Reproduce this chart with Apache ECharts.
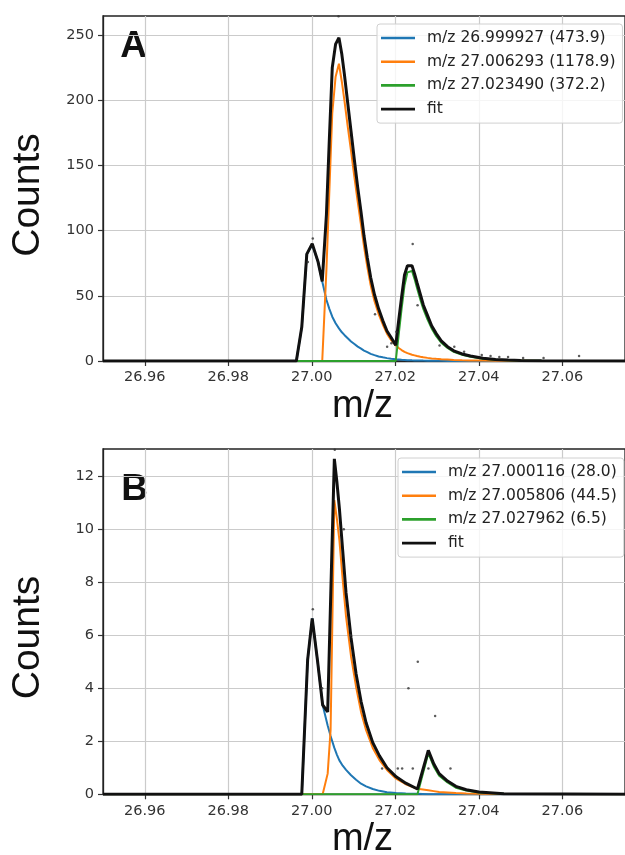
<!DOCTYPE html>
<html>
<head>
<meta charset="utf-8">
<script src="https://cdn.jsdelivr.net/npm/echarts@6/dist/echarts.min.js"></script>
<style>
  html, body { margin: 0; padding: 0; background: #fff; }
  #main { width: 625px; height: 855px; }
</style>
</head>
<body>
<div id="main"></div>
<script>
// shared x range and ticks
var X_MIN = 26.95, X_MAX = 27.075;
var xTicks = [26.96, 26.98, 27.00, 27.02, 27.04, 27.06];

// panel A
var namesA = ['m/z 26.999927 (473.9)', 'm/z 27.006293 (1178.9)', 'm/z 27.023490 (372.2)', 'fit'];
var yTicksA = [0, 50, 100, 150, 200, 250];
var xA = [26.950, 26.9963, 26.9976, 26.9988, 27.0001, 27.0015, 27.0025, 27.0035, 27.0042, 27.0049,
          27.0057, 27.0065, 27.0072, 27.0078, 27.0086, 27.0094, 27.0102, 27.0110, 27.0118, 27.0125,
          27.0133, 27.0141, 27.0150, 27.0160, 27.0170, 27.0180, 27.0190, 27.0201, 27.0208, 27.0215,
          27.0222, 27.0229, 27.0240, 27.0246, 27.0252, 27.0260, 27.0267, 27.0277, 27.0287, 27.0298,
          27.0310, 27.0325, 27.0340, 27.0360, 27.0380, 27.0410, 27.0440, 27.0470, 27.0500, 27.0550,
          27.0750];
var blueA   = [0, 0, 26, 82, 89, 76, 61, 47, 40, 34,
               29, 25, 22, 20, 17.5, 15, 13, 11, 9.5, 8,
               6.8, 5.5, 4.5, 3.5, 2.8, 2.2, 1.7, 1.3, 1.1, 0.9,
               0.8, 0.6, 0.5, 0.45, 0.4, 0.35, 0.3, 0.25, 0.2, 0.15,
               0.1, 0, 0, 0, 0, 0, 0, 0, 0, 0,
               0];
var orangeA = [0, 0, 0, 0, 0, 0, 0, 70, 130, 190,
               218, 228, 214, 200, 180, 161, 141, 122, 104, 88,
               72, 58, 46, 36, 28, 21, 16, 12, 10, 8.4,
               7, 6, 4.8, 4.3, 3.8, 3.3, 2.9, 2.4, 2, 1.7,
               1.4, 1.1, 0.8, 0.6, 0.45, 0.3, 0.2, 0.15, 0.1, 0.05,
               0];
var greenA  = [0, 0, 0, 0, 0, 0, 0, 0, 0, 0,
               0, 0, 0, 0, 0, 0, 0, 0, 0, 0,
               0, 0, 0, 0, 0, 0, 0, 0, 20, 40,
               58, 68, 69, 63, 56, 47, 40, 32, 25, 19,
               14, 10, 7, 4.8, 3.3, 1.8, 1, 0.6, 0.3, 0.1,
               0];
var fitA    = [0, 0, 26, 82, 90, 76, 61, 112, 170, 225,
               243, 248, 235, 220, 198, 176, 154, 133, 114, 96,
               79, 64, 51, 40, 31, 23, 18, 12, 31, 49,
               66, 73, 73, 67, 60, 51, 43, 35, 27, 21,
               15.5, 11, 7.8, 5.4, 3.8, 2.1, 1.2, 0.7, 0.4, 0.1,
               0];
var dotsXA = [27.00024, 26.99906, 27.02416, 27.02533, 27.01514, 27.01804, 27.01906, 27.02024, 27.03059,
              27.03412, 27.03647, 27.0407, 27.0428, 27.0449, 27.0470, 27.0506, 27.0555, 27.0640, 27.0064];
var dotsYA = [94, 76, 89.7, 42.7, 35.8, 11, 13.6, 22.5, 11.8,
              11, 7.1, 4.6, 3.8, 3, 3, 2.3, 2.3, 3.8, 264.5];

// panel B
var namesB = ['m/z 27.000116 (28.0)', 'm/z 27.005806 (44.5)', 'm/z 27.027962 (6.5)', 'fit'];
var yTicksB = [0, 2, 4, 6, 8, 10, 12];
var xB = [26.950, 26.9976, 26.9990, 27.0001, 27.0014, 27.0026, 27.0038, 27.0045, 27.0054, 27.0060,
          27.0066, 27.0074, 27.0082, 27.0094, 27.0106, 27.0118, 27.0130, 27.0146, 27.0162, 27.0180,
          27.0202, 27.0225, 27.0253, 27.0279, 27.0292, 27.0305, 27.0325, 27.0345, 27.0370, 27.0400,
          27.0460, 27.0750];
var blueB   = [0, 0, 5.07, 6.64, 5.0, 3.37, 2.6, 2.2, 1.75, 1.5,
               1.28, 1.08, 0.92, 0.72, 0.55, 0.4, 0.3, 0.2, 0.13, 0.08,
               0.05, 0.03, 0.02, 0, 0, 0, 0, 0, 0, 0,
               0, 0];
var orangeB = [0, 0, 0, 0, 0, 0, 0.78, 2.42, 11.1, 10.4,
               9.6, 8.1, 6.7, 5.2, 4.06, 3.1, 2.42, 1.75, 1.29, 0.92,
               0.59, 0.38, 0.21, 0.15, 0.12, 0.09, 0.07, 0.05, 0.03, 0.02,
               0.01, 0];
var greenB  = [0, 0, 0, 0, 0, 0, 0, 0, 0, 0,
               0, 0, 0, 0, 0, 0, 0, 0, 0, 0,
               0, 0, 0, 1.55, 1.05, 0.7, 0.45, 0.25, 0.14, 0.07,
               0.02, 0];
var fitB    = [0, 0, 5.07, 6.64, 5.0, 3.37, 3.11, 7.3, 12.66, 11.8,
               10.8, 9.2, 7.6, 5.9, 4.55, 3.5, 2.7, 1.95, 1.45, 1.0,
               0.66, 0.42, 0.2, 1.66, 1.15, 0.78, 0.5, 0.3, 0.17, 0.09,
               0.02, 0];
var dotsXB = [27.00024, 27.00766, 27.00926, 27.00247, 27.02538, 27.02314, 27.02953, 27.01684,
              27.02059, 27.02163, 27.02418, 27.02793, 27.0332, 27.0055];
var dotsYB = [6.98, 10.0, 6.0, 4.0, 5.0, 4.0, 2.95, 0.97, 0.97, 0.97, 0.97, 0.97, 0.97, 13.0];

var colors = ['#1f77b4', '#ff7f0e', '#2ca02c', '#111111'];

function pairs(xs, ys) {
    return xs.map(function (x, i) { return [x, ys[i]]; });
}

var tickFont = { fontFamily: 'DejaVu Sans', fontSize: 14.5, color: '#333' };

function makeX(idx) {
    return {
        type: 'value', gridIndex: idx, min: X_MIN, max: X_MAX,
        axisLine: { show: true, onZero: false, lineStyle: { color: '#222', width: 1.3 } },
        axisTick: { show: true, length: 5, customValues: xTicks, lineStyle: { color: '#333', width: 1.2 } },
        axisLabel: Object.assign({ customValues: xTicks, margin: 9,
            formatter: function (v) { return v.toFixed(2); } }, tickFont),
        splitLine: { show: true, lineStyle: { color: '#cbcbcb', width: 1.2 } }
    };
}

function makeY(idx, max, ticks, step) {
    return {
        type: 'value', gridIndex: idx, min: 0, max: max, interval: step,
        axisLine: { show: true, onZero: false, lineStyle: { color: '#222', width: 1.3 } },
        axisTick: { show: true, length: 5, customValues: ticks, lineStyle: { color: '#333', width: 1.2 } },
        axisLabel: Object.assign({ customValues: ticks, margin: 9 }, tickFont),
        splitLine: { show: true, lineStyle: { color: '#cbcbcb', width: 1.2 } }
    };
}

function lineSeries(idx, name, xs, ys, color, width, z) {
    return {
        type: 'line', name: name, xAxisIndex: idx, yAxisIndex: idx,
        data: pairs(xs, ys), symbol: 'none', showSymbol: false,
        lineStyle: { color: color, width: width }, itemStyle: { color: color },
        z: z, silent: true
    };
}

function dotSeries(idx, xs, ys) {
    return {
        type: 'scatter', name: 'data', xAxisIndex: idx, yAxisIndex: idx,
        data: pairs(xs, ys), symbolSize: 2.5, itemStyle: { color: '#333' }, z: 5, silent: true
    };
}

function makeLegend(left, top, names) {
    return {
        orient: 'vertical', left: left, top: top, data: names, selectedMode: false,
        icon: 'rect', padding: [5.5, 7, 5.5, 4], itemWidth: 34, itemHeight: 2.6, itemGap: 6.7,
        backgroundColor: 'rgba(255,255,255,0.8)', borderColor: '#d0d0d0', borderWidth: 1, borderRadius: 3,
        textStyle: { fontFamily: 'DejaVu Sans', fontSize: 15.5, color: '#222', lineHeight: 17, padding: [0, 0, 0, 7] }
    };
}

function bigText(text, x, y, font, rot) {
    return {
        type: 'text', x: x, y: y, rotation: rot || 0, silent: true,
        style: { text: text, font: font, fill: '#111', textAlign: 'center', textVerticalAlign: 'middle' }
    };
}

var chart = echarts.init(document.getElementById('main'), null, { renderer: 'canvas' });

var option = {
    animation: false,
    backgroundColor: '#fff',
    grid: [
        { left: 103, top: 16, width: 531, height: 345, show: true, borderColor: '#222', borderWidth: 1.3 },
        { left: 103, top: 449, width: 531, height: 345.3, show: true, borderColor: '#222', borderWidth: 1.3 }
    ],
    xAxis: [makeX(0), makeX(1)],
    yAxis: [makeY(0, 264.6, yTicksA, 50), makeY(1, 13.03, yTicksB, 2)],
    legend: [makeLegend(377, 24, namesA), makeLegend(398, 458, namesB)],
    series: [
        lineSeries(0, namesA[0], xA, blueA, colors[0], 2, 2),
        lineSeries(0, namesA[1], xA, orangeA, colors[1], 2, 2),
        lineSeries(0, namesA[2], xA, greenA, colors[2], 2, 2),
        lineSeries(0, namesA[3], xA, fitA, colors[3], 3, 3),
        dotSeries(0, dotsXA, dotsYA),
        lineSeries(1, namesB[0], xB, blueB, colors[0], 2, 2),
        lineSeries(1, namesB[1], xB, orangeB, colors[1], 2, 2),
        lineSeries(1, namesB[2], xB, greenB, colors[2], 2, 2),
        lineSeries(1, namesB[3], xB, fitB, colors[3], 3, 3),
        dotSeries(1, dotsXB, dotsYB)
    ],
    graphic: [
        bigText('A', 133.5, 47, 'bold 37px "Liberation Sans"'),
        bigText('B', 134.7, 490, 'bold 37px "Liberation Sans"'),
        bigText('Counts', 28, 195, '39px "Liberation Sans"', Math.PI / 2),
        bigText('Counts', 28, 637.5, '39px "Liberation Sans"', Math.PI / 2),
        bigText('m/z', 362.5, 407, '38px "Liberation Sans"'),
        bigText('m/z', 362.5, 840, '38px "Liberation Sans"')
    ]
};

chart.setOption(option);
</script>
</body>
</html>
